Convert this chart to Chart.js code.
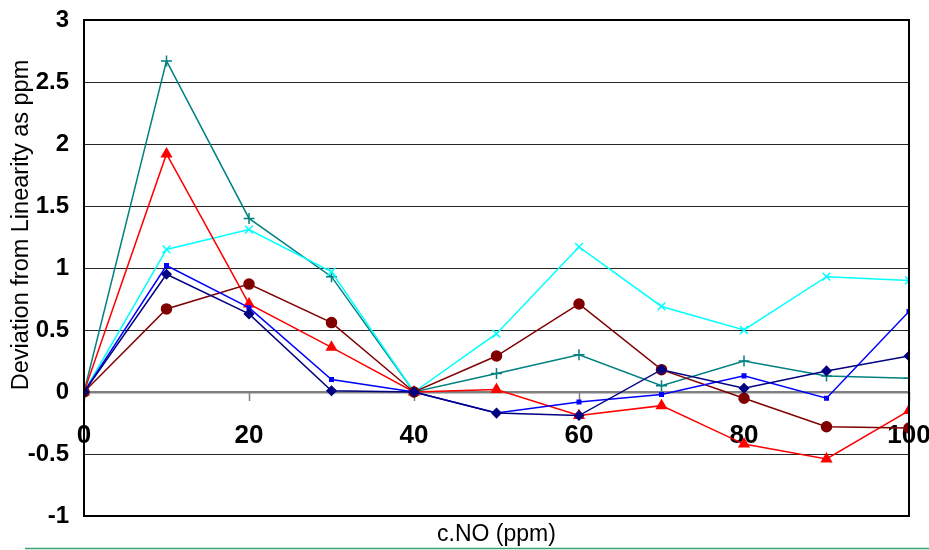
<!DOCTYPE html>
<html><head><meta charset="utf-8">
<script src="https://cdn.jsdelivr.net/npm/chart.js@4.4.1/dist/chart.umd.min.js"></script>
<style>html,body{margin:0;padding:0;background:#fff;overflow:hidden}</style>
</head><body>
<canvas id="c" width="929" height="550" style="display:block;width:929px;height:550px"></canvas>
<script>
// ---- data ----
const concentrations = [0, 10, 20, 30, 40, 50, 60, 70, 80, 90, 100];
const seriesTeal    = [0, 2.67, 1.40, 0.93, 0, 0.15, 0.30, 0.05, 0.25, 0.13, 0.11];
const seriesCyan    = [0, 1.15, 1.31, 0.97, 0, 0.47, 1.17, 0.69, 0.50, 0.93, 0.90];
const seriesRed     = [0, 1.92, 0.71, 0.36, 0, 0.02, -0.19, -0.11, -0.42, -0.54, -0.15];
const seriesDarkRed = [0, 0.67, 0.87, 0.56, 0, 0.29, 0.71, 0.18, -0.05, -0.28, -0.29];
const seriesBlue    = [0, 1.02, 0.68, 0.10, 0, -0.17, -0.08, -0.02, 0.13, -0.05, 0.65];
const seriesNavy    = [0, 0.95, 0.63, 0.01, 0, -0.17, -0.19, 0.18, 0.03, 0.17, 0.29];
const xTitle = 'c.NO (ppm)';
const yTitle = 'Deviation from Linearity as ppm';

function pts(arr){ return concentrations.map((x,i)=>({x:x, y:arr[i]})); }
function ds(label, arr, color, style, radius){
  return {label, data: pts(arr), borderColor: color, backgroundColor: color,
    borderWidth: 1.5, pointStyle: style, pointRadius: radius, pointHoverRadius: radius,
    pointBorderColor: color, pointBackgroundColor: color, pointBorderWidth: 1.5, tension: 0};
}

const framePlugin = {
  id: 'frame',
  afterDraw(chart){
    const {ctx, chartArea: a} = chart;
    ctx.save();
    ctx.strokeStyle = '#000';
    ctx.lineWidth = 2;
    ctx.strokeRect(a.left, a.top, a.right - a.left, a.bottom - a.top);
    // x title
    ctx.fillStyle = '#000';
    ctx.font = '23px "Liberation Sans", Arial, sans-serif';
    ctx.textAlign = 'center';
    ctx.textBaseline = 'middle';
    ctx.fillText(xTitle, (a.left + a.right) / 2, 535);
    // y title
    ctx.save();
    ctx.translate(22, 225);
    ctx.rotate(-Math.PI / 2);
    ctx.font = '23.5px "Liberation Sans", Arial, sans-serif';
    ctx.fillText(yTitle, 0, 0);
    ctx.restore();
    // bottom green rule
    ctx.strokeStyle = '#3aa56e';
    ctx.lineWidth = 1.5;
    ctx.beginPath();
    ctx.moveTo(25, 548.5);
    ctx.lineTo(929, 548.5);
    ctx.stroke();
    ctx.restore();
  }
};

new Chart(document.getElementById('c'), {
  type: 'line',
  data: {
    datasets: [
      ds('Series 6', seriesNavy, '#000080', 'rectRot', 4.5),
      ds('Series 5', seriesBlue, '#0000FF', 'rect', 2.5),
      ds('Series 4', seriesDarkRed, '#800000', 'circle', 5),
      ds('Series 3', seriesRed, '#FF0000', 'triangle', 5.5),
      ds('Series 2', seriesCyan, '#00FFFF', 'crossRot', 5.5),
      ds('Series 1', seriesTeal, '#008080', 'cross', 5.5)
    ]
  },
  options: {
    responsive: false,
    animation: false,
    devicePixelRatio: 1,
    layout: { padding: { top: 20, right: 20, bottom: 34, left: 0 } },
    plugins: { legend: { display: false }, tooltip: { enabled: false }, title: { display: false } },
    scales: {
      x: {
        type: 'linear',
        position: { y: 0 },
        min: 0, max: 100,
        afterFit(scale){ scale.paddingLeft = 0; scale.paddingRight = 0; },
        ticks: { stepSize: 20, padding: 19, color: '#000',
          font: { family: '"Liberation Sans", Arial, sans-serif', size: 26, weight: 'bold' } },
        grid: { drawOnChartArea: false, drawTicks: true, tickLength: 9, tickColor: '#808080', tickWidth: 1.5 },
        border: { display: false }
      },
      y: {
        min: -1, max: 3,
        afterFit(scale){ scale.width = 84; scale.paddingTop = 0; scale.paddingBottom = 0; },
        ticks: { stepSize: 0.5, padding: 15, color: '#000',
          callback: (v) => String(v),
          font: { family: '"Liberation Sans", Arial, sans-serif', size: 24, weight: 'bold' } },
        grid: {
          drawTicks: false,
          color: (c) => c.tick && c.tick.value === 0 ? '#808080' : '#262626',
          lineWidth: (c) => c.tick && c.tick.value === 0 ? 2.5 : 1
        },
        border: { display: true, color: '#000', width: 2 }
      }
    }
  },
  plugins: [framePlugin]
});
</script>
</body></html>
